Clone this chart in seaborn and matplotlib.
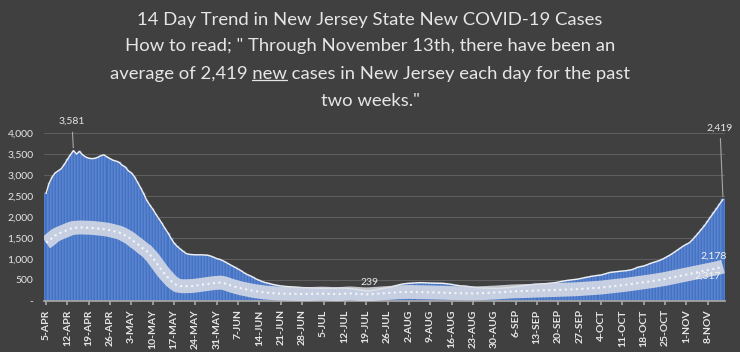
import seaborn as sns
import matplotlib.pyplot as plt
import pandas as pd
from matplotlib.lines import Line2D

# 14 day average of new cases, one value per day from 5-APR to 13-NOV
avg_14day = [
    2560, 2800, 2950, 3050, 3100, 3150, 3250, 3370, 3480, 3581,
    3500, 3560, 3480, 3430, 3400, 3390, 3395, 3420, 3460, 3480,
    3430, 3390, 3350, 3330, 3300, 3230, 3190, 3100, 3050, 2960,
    2830, 2700, 2560, 2400, 2290, 2190, 2070, 1960, 1850, 1730,
    1620, 1490, 1380, 1300, 1240, 1180, 1130, 1110, 1105, 1100,
    1100, 1100, 1095, 1090, 1070, 1040, 1010, 990, 960, 920,
    880, 840, 800, 760, 720, 670, 630, 600, 560, 520,
    490, 460, 437, 420, 400, 385, 370, 360, 350, 345,
    340, 335, 330, 325, 320, 318, 315, 312, 310, 308,
    305, 305, 303, 302, 300, 305, 310, 312, 308, 302,
    295, 285, 275, 262, 250, 239, 242, 250, 265, 280,
    295, 305, 317, 330, 350, 370, 390, 405, 415, 420,
    425, 430, 435, 437, 435, 430, 428, 425, 422, 420,
    420, 415, 405, 395, 380, 370, 360, 357, 350, 340,
    330, 320, 317, 315, 310, 305, 302, 300, 300, 305,
    310, 315, 320, 330, 340, 350, 357, 365, 375, 385,
    395, 400, 405, 410, 415, 420, 430, 437, 450, 465,
    480, 490, 500, 510, 516, 530, 545, 560, 575, 590,
    600, 610, 619, 640, 660, 680, 690, 698, 705, 712,
    720, 730, 745, 770, 800, 820, 833, 860, 890, 915,
    937, 960, 990, 1030, 1071, 1110, 1160, 1210, 1260, 1310,
    1350, 1389, 1460, 1540, 1627, 1710, 1800, 1905, 2010, 2110,
    2210, 2320, 2419,
]

# the second series (drawn as a pale band of overlapping data labels)
daily_band = [
    1390, 1440, 1500, 1560, 1600, 1630, 1660, 1690, 1720, 1740,
    1746, 1750, 1750, 1746, 1745, 1740, 1735, 1725, 1720, 1710,
    1700, 1685, 1667, 1650, 1630, 1600, 1560, 1520, 1470, 1410,
    1360, 1300, 1240, 1190, 1110, 1030, 930, 830, 730, 640,
    560, 480, 420, 370, 357, 350, 352, 355, 357, 365,
    375, 385, 395, 405, 415, 425, 432, 437, 430, 410,
    385, 360, 340, 320, 300, 285, 270, 255, 240, 230,
    220, 210, 200, 195, 190, 185, 180, 178, 175, 172,
    170, 170, 168, 168, 165, 165, 165, 168, 170, 172,
    175, 175, 172, 170, 168, 165, 165, 170, 175, 178,
    180, 175, 170, 165, 160, 158, 160, 165, 170, 175,
    180, 185, 190, 195, 200, 205, 210, 212, 215, 215,
    215, 212, 210, 210, 208, 205, 205, 203, 200, 200,
    198, 195, 192, 190, 188, 185, 185, 183, 182, 180,
    180, 182, 185, 188, 190, 195, 198, 200, 205, 210,
    215, 220, 225, 228, 230, 232, 235, 238, 240, 243,
    245, 248, 250, 252, 255, 258, 260, 263, 265, 268,
    270, 272, 275, 278, 280, 285, 290, 295, 300, 305,
    310, 315, 320, 328, 335, 342, 350, 358, 366, 375,
    385, 395, 405, 415, 425, 435, 445, 455, 465, 476,
    488, 500, 512, 525, 540, 555, 570, 585, 600, 615,
    630, 645, 660, 675, 690, 705, 720, 735, 750, 765,
    780, 800, 820,
]

week_labels = ['5-APR', '12-APR', '19-APR', '26-APR', '3-MAY', '10-MAY', '17-MAY',
               '24-MAY', '31-MAY', '7-JUN', '14-JUN', '21-JUN', '28-JUN', '5-JUL',
               '12-JUL', '19-JUL', '26-JUL', '2-AUG', '9-AUG', '16-AUG', '23-AUG',
               '30-AUG', '6-SEP', '13-SEP', '20-SEP', '27-SEP', '4-OCT', '11-OCT',
               '18-OCT', '25-OCT', '1-NOV', '8-NOV']
y_ticks = [0, 500, 1000, 1500, 2000, 2500, 3000, 3500, 4000]

title_lines = ['14 Day Trend in New Jersey State New COVID-19 Cases',
               'How to read; " Through November 13th, there have been an',
               'average of 2,419 new cases in New Jersey each day for the past',
               'two weeks."']

bg = '#404040'
txt = '#e6e6e6'
blue = '#4472C4'

sns.set_theme(style='dark')
plt.rcParams['font.family'] = ['Lato', 'DejaVu Sans']

df = pd.DataFrame({'day': range(len(avg_14day)), 'avg': avg_14day, 'band': daily_band})

fig = plt.figure(figsize=(7.4, 3.52), dpi=100, facecolor=bg)
ax = fig.add_axes([0.0601, 0.1449, 0.919, 0.4773])
ax.set_facecolor(bg)

sns.barplot(data=df, x='day', y='avg', color=blue, saturation=1, width=1.0,
            edgecolor='#7b9ee0', linewidth=0.35, ax=ax, zorder=2)
sns.lineplot(data=df, x='day', y='avg', color='#f0f0f0', lw=1.0, ax=ax, zorder=3)
sns.lineplot(data=df, x='day', y='band', color='#dcdfe6', lw=10, alpha=0.85, ax=ax,
             zorder=4, solid_capstyle='butt')
sns.lineplot(data=df, x='day', y='band', color='#ffffff', lw=1.5, ls=':', alpha=0.8,
             ax=ax, zorder=5)

ax.set_xlim(-0.5, len(avg_14day) - 0.5)
ax.set_ylim(0, 4000)
ax.set_xticks(range(0, len(avg_14day), 7))
ax.set_xticklabels(week_labels, rotation=90, fontsize=7.5, fontweight='bold', color=txt)
ax.set_yticks(y_ticks)
ax.set_yticklabels(['-' if v == 0 else f'{v:,}' for v in y_ticks], fontsize=7.5, color=txt)
ax.set_xlabel('')
ax.set_ylabel('')
ax.yaxis.grid(True, color='#5e5e5e', lw=0.8)
ax.set_axisbelow(True)
for s in ['top', 'right', 'left']:
    ax.spines[s].set_visible(False)
ax.spines['bottom'].set_color('#a6a6a6')
ax.tick_params(axis='x', length=3, color='#a6a6a6', bottom=True, pad=3)
ax.tick_params(axis='y', length=0, pad=8)

ann = dict(arrowstyle='-', color='#a6a6a6', lw=0.8)
ax.annotate('3,581', xy=(9, 3581), xytext=(8.5, 4270), ha='center', va='center',
            fontsize=7.5, color=txt, arrowprops=ann, annotation_clip=False)
ax.annotate('2,419', xy=(222, 2419), xytext=(221, 4120), ha='center', va='center',
            fontsize=7.5, color=txt, arrowprops=ann, annotation_clip=False)
ax.text(106, 450, '239', ha='center', va='center', fontsize=7.5, color=txt)
ax.text(219, 1075, '2,178', ha='center', va='center', fontsize=7.5, color='#f2f2f2', zorder=6)
ax.text(217, 600, '2,317', ha='center', va='center', fontsize=7.5, color='#f2f2f2', zorder=6)

ys = [0.943, 0.869, 0.790, 0.713]
texts = [fig.text(0.5, y, s, ha='center', va='center', fontsize=13.3, color=txt)
         for s, y in zip(title_lines, ys)]

# underline the word "new" in the third title line
fig.canvas.draw()
r = fig.canvas.get_renderer()
box = texts[2].get_window_extent(r)
tmp = fig.text(0, 0, 'average of 2,419 new', fontsize=13.3)
w1 = tmp.get_window_extent(r).width
tmp.set_text('new')
wn = tmp.get_window_extent(r).width
tmp.remove()
W, H = fig.canvas.get_width_height()
x1 = box.x0 + w1
x0 = x1 - wn
yl = box.y0 + 2
fig.add_artist(Line2D([x0 / W, x1 / W], [yl / H, yl / H], color=txt, lw=0.9))

fig.savefig('out.png', dpi=100, facecolor=bg)
